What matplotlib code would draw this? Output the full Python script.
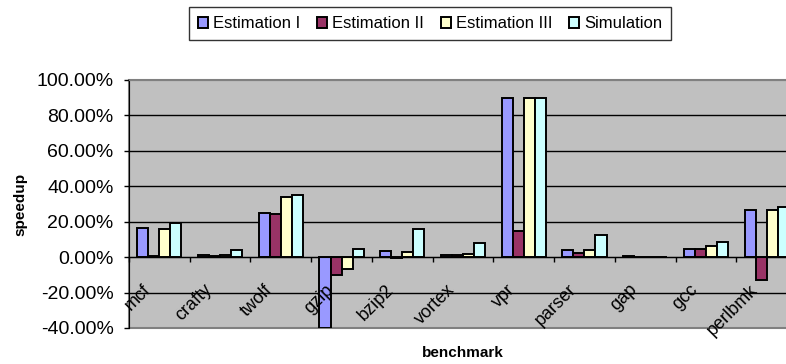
import matplotlib
matplotlib.use("Agg")
import matplotlib.pyplot as plt
from matplotlib.patches import Patch, Rectangle
import numpy as np

categories = ["mcf", "crafty", "twolf", "gzip", "bzip2", "vortex", "vpr", "parser", "gap", "gcc", "perlbmk"]
series_names = ["Estimation I", "Estimation II", "Estimation III", "Simulation"]
est1 = [16.2, 1.0, 25.0, -39.8, 3.4, 1.0, 89.8, 4.3, 0.5, 4.5, 26.6]
est2 = [0.5, 0.5, 24.5, -9.8, -0.5, 1.0, 14.8, 2.5, 0.0, 4.8, -12.8]
est3 = [16.0, 1.0, 33.9, -6.8, 3.0, 1.5, 89.8, 4.0, 0.3, 6.3, 26.6]
sim = [19.1, 4.0, 35.0, 4.8, 16.0, 8.0, 89.8, 12.5, 0.3, 8.6, 28.5]
yticks = [-40, -20, 0, 20, 40, 60, 80, 100]

colors = ["#9999FF", "#993366", "#FFFFCC", "#CCFFFF"]
plt.rcParams['font.family'] = ['Liberation Sans', 'DejaVu Sans']

fig = plt.figure(figsize=(7.86, 3.64), dpi=100)
ax = fig.add_axes([129/786, 36/364, 668/786, 248/364])
ax.set_facecolor("#C0C0C0")

n = len(categories)
x = np.arange(n)
bw = 1/5.5
data = [est1, est2, est3, sim]
for k, (vals, c) in enumerate(zip(data, colors)):
    ax.bar(x + (k - 1.5) * bw, vals, width=bw, color=c, edgecolor="black", linewidth=1.4, zorder=3)

ax.set_xlim(-0.5, n - 0.5)
ax.set_ylim(-40, 100)
ax.set_yticks(yticks)
ax.set_yticklabels([f"{v:.2f}%" for v in yticks], fontsize=14)
for v in yticks[1:-1]:
    ax.axhline(v, color="black", linewidth=1.0, zorder=1)

for s in ["top", "right"]:
    ax.spines[s].set_color("#808080")
ax.spines["left"].set_color("black")
ax.spines["bottom"].set_position(("data", 0))
ax.spines["bottom"].set_color("black")
ax.spines["bottom"].set_zorder(4)
ax.add_patch(Rectangle((0, 0), 1, 1, transform=ax.transAxes, fill=False, edgecolor="#808080", linewidth=1.5, zorder=0.5, clip_on=False))
ax.set_xticks(np.arange(n + 1) - 0.5)
ax.set_xticklabels([])
ax.tick_params(axis="x", direction="out", length=3.6, width=1, color="black")
ax.tick_params(axis="y", direction="out", length=3.6, width=1, color="black", pad=7.5)

for i, name in enumerate(categories):
    ax.annotate(name, xy=(i, 0), xytext=(-11, -30), textcoords="offset pixels",
                rotation=45, rotation_mode="anchor", ha="right", va="center",
                fontsize=13, zorder=5, annotation_clip=False)

fig.text(20/786, 1 - 204/364, "speedup", rotation=90, fontsize=11, fontweight="bold", ha="center", va="center")
fig.text(463/786, 1 - 353/364, "benchmark", fontsize=11, fontweight="bold", ha="center", va="center")

handles = [Patch(facecolor=c, edgecolor="black", linewidth=1.4) for c in colors]
leg = fig.legend(handles, series_names, loc="upper left", bbox_to_anchor=(189/786, 1 - 7/364), ncol=4,
                 fontsize=12, frameon=True, fancybox=False, edgecolor="black", handlelength=0.6,
                 handleheight=0.6, handletextpad=0.3, columnspacing=1.0, borderpad=0.55,
                 borderaxespad=0)
leg.get_frame().set_linewidth(1.0)

fig.savefig("out.png", dpi=100)
